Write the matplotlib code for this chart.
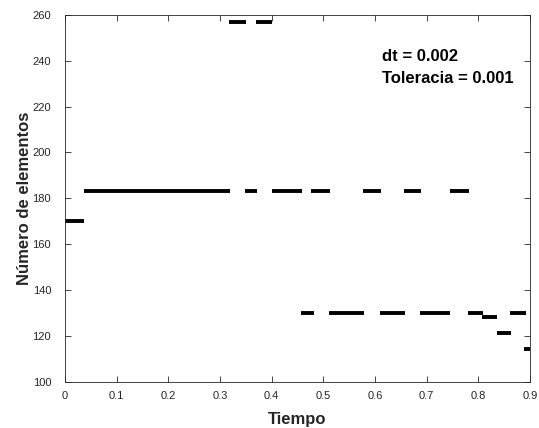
import numpy as np
import matplotlib
matplotlib.use('Agg')
import matplotlib.pyplot as plt

plt.rcParams['font.family'] = ['Liberation Sans', 'DejaVu Sans']

# segmentos horizontales: inicio, fin, numero de elementos
t_ini = [0.000, 0.036, 0.318, 0.348, 0.370, 0.400, 0.456, 0.477, 0.510,
         0.577, 0.610, 0.656, 0.688, 0.745, 0.780, 0.808, 0.836, 0.861, 0.889]
t_fin = [0.036, 0.319, 0.350, 0.371, 0.401, 0.458, 0.481, 0.512, 0.579,
         0.612, 0.658, 0.689, 0.745, 0.781, 0.810, 0.837, 0.864, 0.892, 0.900]
n_elem = [170, 183, 257, 183, 257, 183, 130, 183, 130,
          183, 130, 183, 130, 183, 130, 128, 121, 130, 114]

fig = plt.figure(figsize=(5.39, 4.28), dpi=100)
ax = fig.add_axes([0.1206, 0.1086, 0.8627, 0.8564])

ax.hlines(n_elem, t_ini, t_fin, colors='k', linewidth=2.8, capstyle='butt')

ax.set_xlim(0, 0.9)
ax.set_ylim(100, 260)
ax.set_xticks(np.arange(0, 0.91, 0.1))
ax.set_xticklabels(['0', '0.1', '0.2', '0.3', '0.4', '0.5', '0.6', '0.7', '0.8', '0.9'])
ax.set_yticks(np.arange(100, 261, 20))
ax.tick_params(direction='in', top=True, right=True, length=4, width=0.6,
               labelsize=8, colors='0.15')
ax.tick_params(axis='x', pad=7)
ax.tick_params(axis='y', pad=10)
for s in ax.spines.values():
    s.set_linewidth(0.6)
    s.set_color('0.15')

ax.set_xlabel('Tiempo', fontsize=12, fontweight='bold', labelpad=8, color='0.15')
ax.set_ylabel('Número de elementos', fontsize=12, fontweight='bold', labelpad=0,
              color='0.15')

ax.text(0.681, 0.888, 'dt = 0.002', transform=ax.transAxes, fontsize=12,
        fontweight='bold', va='center')
ax.text(0.681, 0.828, 'Toleracia = 0.001', transform=ax.transAxes, fontsize=12,
        fontweight='bold', va='center')

fig.savefig('out.png', dpi=100)
